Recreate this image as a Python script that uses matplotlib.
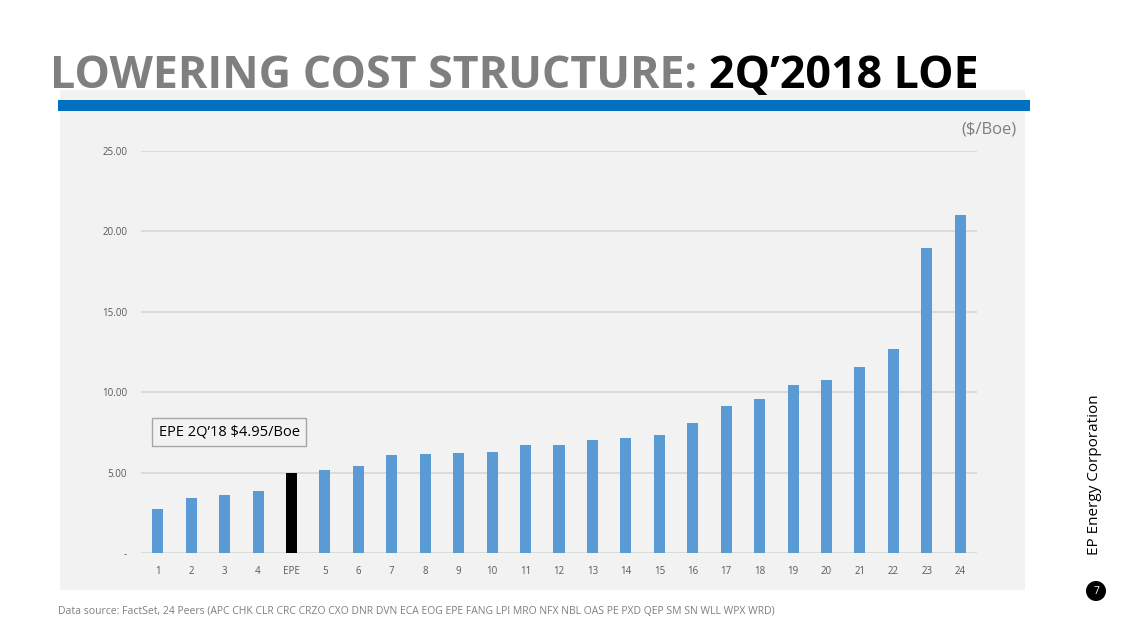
import matplotlib
matplotlib.use('Agg')
import matplotlib.pyplot as plt
from matplotlib import font_manager
from matplotlib.patches import Rectangle, Ellipse

# data
labels = ['1', '2', '3', '4', 'EPE', '5', '6', '7', '8', '9', '10', '11', '12',
          '13', '14', '15', '16', '17', '18', '19', '20', '21', '22', '23', '24']
loe = [2.74, 3.42, 3.60, 3.86, 4.95, 5.16, 5.41, 6.09, 6.16, 6.22, 6.28, 6.72, 6.72,
       7.03, 7.17, 7.36, 8.10, 9.14, 9.56, 10.47, 10.78, 11.57, 12.67, 18.95, 21.0]
yticks = [0, 5, 10, 15, 20, 25]
ytick_labels = ['-', '5.00', '10.00', '15.00', '20.00', '25.00']

names = {f.name for f in font_manager.fontManager.ttflist}
condensed = any(f.name == 'DejaVu Sans' and f.stretch in ('condensed', 'semi-condensed', 600, 300)
                for f in font_manager.fontManager.ttflist)
narrow = 'Liberation Sans Narrow' if 'Liberation Sans Narrow' in names else 'Open Sans'
body = 'Open Sans'

W, H = 1129, 635
fig = plt.figure(figsize=(W / 100, H / 100), dpi=100)
fig.patch.set_facecolor('white')

# gray panel and blue rule
fig.patches.append(Rectangle((60 / W, 1 - 590 / H), 965 / W, 500 / H,
                             transform=fig.transFigure, facecolor='#f2f2f2',
                             edgecolor='none', zorder=-2))
fig.patches.append(Rectangle((58 / W, 1 - 111 / H), 972 / W, 11 / H,
                             transform=fig.transFigure, facecolor='#0070c0',
                             edgecolor='none', zorder=-1))

ax = fig.add_axes([141 / W, 1 - 553 / H, 836 / W, 402 / H])
ax.set_zorder(2)
ax.set_facecolor('none')
colors = ['#000000' if l == 'EPE' else '#5b9bd5' for l in labels]
x = range(len(labels))
ax.bar(x, loe, width=0.33, color=colors, zorder=3)
ax.set_xlim(-0.5, len(labels) - 0.5)
ax.set_ylim(0, 25)
ax.set_yticks(yticks)
ax.set_yticklabels(ytick_labels)
ax.set_xticks(list(x))
ax.set_xticklabels(labels)
ax.tick_params(length=0, labelsize=7, colors='#595959', pad=10)
ax.tick_params(axis='x', pad=9)
for t in ax.get_xticklabels() + ax.get_yticklabels():
    t.set_family(body)
ax.yaxis.grid(True, color='#d9d9d9', linewidth=1.3, zorder=0)
ax.set_axisbelow(True)
for s in ax.spines.values():
    s.set_visible(False)

ax.text(0.03, 7.55, 'EPE 2Q\u201918 $4.95/Boe', fontsize=10.5, family=body,
        color='black', va='center', ha='left', zorder=5,
        bbox=dict(boxstyle='square,pad=0.45', facecolor='#f2f2f2',
                  edgecolor='#a6a6a6', linewidth=1))

# title, sized to span the same width as in the slide
tkw = dict(family=narrow, fontweight='bold', va='baseline')
t1 = fig.text(50 / W, 1 - 88 / H, 'LOWERING COST STRUCTURE: ', color='#7f7f7f', fontsize=40, **tkw)
t2 = fig.text(0, 1 - 88 / H, '2Q\u20192018 LOE', color='black', fontsize=40, **tkw)
r = fig.canvas.get_renderer()
w = t1.get_window_extent(r).width + t2.get_window_extent(r).width
fs = 40 * 928 / w
t1.set_fontsize(fs)
t2.set_fontsize(fs)
t2.set_x(t1.get_window_extent(r).x1 / W)

fig.text(1017 / W, 1 - 130 / H, '($/Boe)', family=body, fontsize=12,
         color='#7f7f7f', ha='right', va='center')
fig.text(1095 / W, 1 - 475 / H, 'EP Energy Corporation', family=body,
         fontsize=11, color='black', rotation=90, ha='center', va='center')
fig.patches.append(Ellipse((1096 / W, 1 - 591 / H), 20 / W, 20 / H,
                           transform=fig.transFigure, facecolor='black',
                           edgecolor='none'))
fig.text(1096 / W, 1 - 591 / H, '7', family=body, fontsize=7.5, color='white',
         ha='center', va='center')
fig.text(58 / W, 1 - 612 / H,
         'Data source: FactSet, 24 Peers (APC CHK CLR CRC CRZO CXO DNR DVN ECA EOG EPE '
         'FANG LPI MRO NFX NBL OAS PE PXD QEP SM SN WLL WPX WRD)',
         family=narrow, fontsize=7.5, color='#7f7f7f', va='center')

fig.savefig('out.png', dpi=100)
